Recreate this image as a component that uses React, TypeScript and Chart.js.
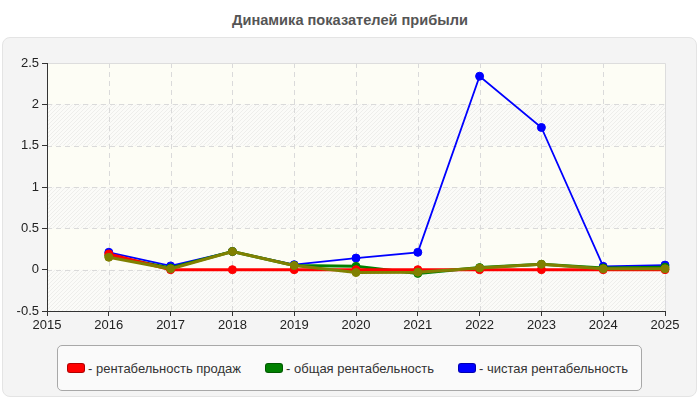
import React, { useEffect, useRef } from "react";
import { Chart, registerables } from "chart.js";

Chart.register(...registerables);

// years on the x axis (the axis itself starts at 2015)
const years = [2016, 2017, 2018, 2019, 2020, 2021, 2022, 2023, 2024, 2025];

const salesProfitability = [0.19, 0.0, 0.0, 0.0, 0.0, 0.0, 0.0, 0.0, 0.0, 0.0];
const generalProfitability = [0.17, 0.02, 0.22, 0.05, 0.04, -0.045, 0.025, 0.065, 0.02, 0.03];
const netProfitability = [0.21, 0.045, 0.22, 0.06, 0.14, 0.21, 2.34, 1.72, 0.04, 0.055];
// fourth line drawn in olive, it has no legend entry
const unlabeledSeries = [0.15, 0.01, 0.22, 0.05, -0.035, -0.03, 0.02, 0.065, 0.01, 0.01];

const legendLabels = [
  "- рентабельность продаж",
  "- общая рентабельность",
  "- чистая рентабельность",
];
const legendColors = ["#ff0000", "#008000", "#0000ff"];

const FONT = "'Liberation Sans', Arial, sans-serif";

function makeHatch(ctx: CanvasRenderingContext2D) {
  const c = document.createElement("canvas");
  c.width = 4;
  c.height = 4;
  const p = c.getContext("2d")!;
  p.fillStyle = "#fbfbf8";
  p.fillRect(0, 0, 4, 4);
  p.strokeStyle = "rgba(0,0,0,0.05)";
  p.lineWidth = 1;
  p.beginPath();
  p.moveTo(0, 4);
  p.lineTo(4, 0);
  p.moveTo(-1, 1);
  p.lineTo(1, -1);
  p.moveTo(3, 5);
  p.lineTo(5, 3);
  p.stroke();
  return ctx.createPattern(c, "repeat");
}

const backgroundPlugin = {
  id: "plotBackground",
  beforeDraw(chart: any) {
    const { ctx, chartArea: a, scales } = chart;
    const xs = scales.x;
    const ys = scales.y;
    ctx.save();
    ctx.fillStyle = "#fdfdf5";
    ctx.fillRect(a.left, a.top, a.right - a.left, a.bottom - a.top);

    const hatch = makeHatch(ctx);
    const yTicks = ys.ticks.map((t: any) => t.value);
    for (let i = 0; i < yTicks.length - 1; i++) {
      if (i % 2 !== 0) continue;
      const y0 = ys.getPixelForValue(yTicks[i]);
      const y1 = ys.getPixelForValue(yTicks[i + 1]);
      ctx.fillStyle = hatch;
      ctx.fillRect(a.left, Math.min(y0, y1), a.right - a.left, Math.abs(y0 - y1));
    }

    // dashed grid
    ctx.strokeStyle = "#dadada";
    ctx.lineWidth = 1;
    ctx.setLineDash([5, 4]);
    ctx.beginPath();
    yTicks.forEach((v: number) => {
      if (v === ys.min || v === ys.max) return;
      const y = Math.round(ys.getPixelForValue(v)) + 0.5;
      ctx.moveTo(a.left, y);
      ctx.lineTo(a.right, y);
    });
    xs.ticks.forEach((t: any) => {
      if (t.value === xs.min || t.value === xs.max) return;
      const x = Math.round(xs.getPixelForValue(t.value)) + 0.5;
      ctx.moveTo(x, a.top);
      ctx.lineTo(x, a.bottom);
    });
    ctx.stroke();

    // light frame at top and right
    ctx.setLineDash([]);
    ctx.strokeStyle = "#dddddd";
    ctx.beginPath();
    const top = Math.round(a.top) + 0.5;
    const right = Math.round(a.right) + 0.5;
    ctx.moveTo(a.left, top);
    ctx.lineTo(right, top);
    ctx.lineTo(right, a.bottom);
    ctx.stroke();
    ctx.restore();
  },
};

function toPoints(values: number[]) {
  return values.map((v, i) => ({ x: years[i], y: v }));
}

function ProfitChart() {
  const canvasRef = useRef<HTMLCanvasElement | null>(null);
  const chartRef = useRef<Chart | null>(null);

  useEffect(() => {
    if (!canvasRef.current) return;
    if (chartRef.current) chartRef.current.destroy();

    const line = (label: string, values: number[], color: string, width: number, order: number) => ({
      label,
      data: toPoints(values),
      borderColor: color,
      backgroundColor: color,
      borderWidth: width,
      pointRadius: 4,
      pointHoverRadius: 4,
      pointBackgroundColor: color,
      pointBorderColor: color,
      pointBorderWidth: 1,
      tension: 0,
      fill: false,
      clip: false as any,
      order,
    });

    chartRef.current = new Chart(canvasRef.current, {
      type: "line",
      data: {
        datasets: [
          line(legendLabels[0], salesProfitability, legendColors[0], 3, 1),
          line(legendLabels[1], generalProfitability, legendColors[1], 3, 2),
          line(legendLabels[2], netProfitability, legendColors[2], 1.8, 3),
          line("", unlabeledSeries, "#808000", 3, 0),
        ],
      },
      options: {
        animation: false,
        responsive: true,
        maintainAspectRatio: false,
        layout: { padding: { top: 25, right: 32, bottom: 0, left: 0 } },
        plugins: {
          legend: { display: false },
          title: { display: false },
          tooltip: { enabled: false },
        },
        scales: {
          x: {
            type: "linear",
            min: 2015,
            max: 2025,
            afterFit: (scale: any) => {
              scale.height = 27;
            },
            ticks: {
              stepSize: 1,
              color: "#222",
              padding: 2,
              font: { family: FONT, size: 13 },
              callback: (value: any) => String(value),
            },
            grid: {
              drawOnChartArea: false,
              drawTicks: true,
              tickLength: 5,
              tickColor: "#333",
            },
            border: { display: true, color: "#333", width: 1 },
          },
          y: {
            type: "linear",
            min: -0.5,
            max: 2.5,
            afterFit: (scale: any) => {
              scale.width = 44;
            },
            ticks: {
              stepSize: 0.5,
              color: "#222",
              padding: 3,
              font: { family: FONT, size: 13 },
              callback: (value: any) => String(value),
            },
            grid: {
              drawOnChartArea: false,
              drawTicks: true,
              tickLength: 5,
              tickColor: "#333",
            },
            border: { display: true, color: "#333", width: 1 },
          },
        },
      },
      plugins: [backgroundPlugin],
    });

    return () => {
      if (chartRef.current) {
        chartRef.current.destroy();
        chartRef.current = null;
      }
    };
  }, []);

  return <canvas ref={canvasRef} />;
}

export default function App() {
  return (
    <div
      style={{
        position: "fixed",
        left: 0,
        top: 0,
        width: 700,
        height: 400,
        background: "#ffffff",
        overflow: "hidden",
        fontFamily: FONT,
      }}
    >
      <div
        style={{
          position: "absolute",
          top: 12,
          left: 0,
          width: 700,
          textAlign: "center",
          fontWeight: "bold",
          fontSize: 14.6,
          lineHeight: "16px",
          color: "#555",
        }}
      >
        Динамика показателей прибыли
      </div>
      <div
        style={{
          position: "absolute",
          left: 2,
          top: 37,
          width: 695,
          height: 360,
          boxSizing: "border-box",
          border: "1px solid #e4e4e4",
          borderRadius: 8,
          background: "#f4f4f4",
        }}
      />
      <div style={{ position: "absolute", left: 3, top: 38, width: 694, height: 300 }}>
        <ProfitChart />
      </div>
      <div
        style={{
          position: "absolute",
          left: 57,
          top: 345,
          width: 585,
          height: 46,
          boxSizing: "border-box",
          border: "1px solid #a8a8a8",
          borderRadius: 5,
          background: "#fafafa",
          display: "flex",
          alignItems: "center",
          paddingLeft: 9,
          gap: 24,
        }}
      >
        {legendLabels.map((label, i) => (
          <div key={label} style={{ display: "flex", alignItems: "center" }}>
            <span
              style={{
                display: "inline-block",
                width: 18,
                height: 10,
                boxSizing: "border-box",
                borderRadius: 3,
                background: legendColors[i],
                border: "1px solid rgba(0,0,0,0.3)",
                marginRight: 3,
              }}
            />
            <span style={{ fontSize: 13, color: "#333", whiteSpace: "nowrap" }}>{label}</span>
          </div>
        ))}
      </div>
    </div>
  );
}
